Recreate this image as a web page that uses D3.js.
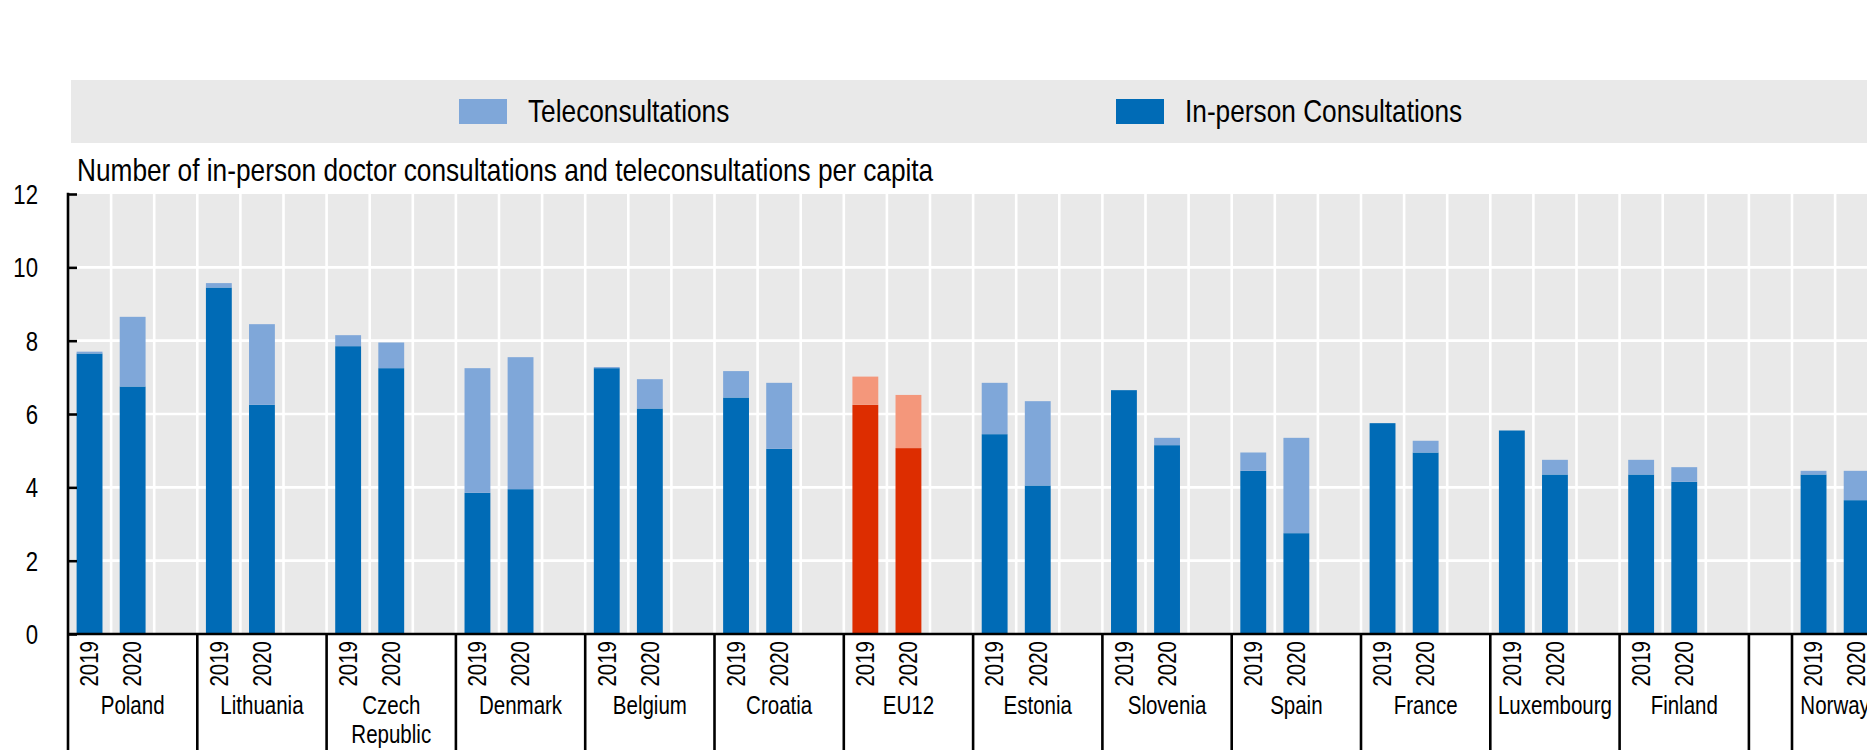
<!DOCTYPE html>
<html><head><meta charset="utf-8">
<script src="https://cdn.jsdelivr.net/npm/d3@7"></script>
<style>html,body{margin:0;padding:0;background:#fff;overflow:hidden}</style>
</head><body>
<svg id="chart" width="1867" height="750"></svg>
<script>
// ---------- data ----------
const countries = ["Poland","Lithuania","Czech Republic","Denmark","Belgium","Croatia","EU12","Estonia","Slovenia","Spain","France","Luxembourg","Finland","Norway"];
const nonEU = ["Norway"];
const years = ["2019","2020"];
const inPerson2019 = [7.65, 9.45, 7.85, 3.85, 7.25, 6.45, 6.25, 5.45, 6.65, 4.45, 5.75, 5.55, 4.35, 4.35];
const tele2019     = [0.05, 0.12, 0.30, 3.40, 0.03, 0.72, 0.77, 1.40, 0.00, 0.50, 0.00, 0.00, 0.40, 0.10];
const inPerson2020 = [6.75, 6.25, 7.25, 3.95, 6.15, 5.05, 5.07, 4.05, 5.15, 2.75, 4.95, 4.35, 4.15, 3.65];
const tele2020     = [1.90, 2.20, 0.70, 3.60, 0.80, 1.80, 1.45, 2.30, 0.20, 2.60, 0.32, 0.40, 0.40, 0.80];
const yTicks = [0, 2, 4, 6, 8, 10, 12];
const legendLabels = ["Teleconsultations", "In-person Consultations"];
const titleText = "Number of in-person doctor consultations and teleconsultations per capita";
const highlight = "EU12";

// ---------- font ----------
function hasFont(name){
  const c = document.createElement('canvas').getContext('2d');
  const s = 'abcdefghijklmnopqrstuvwxyz0123456789';
  c.font = '40px monospace'; const a = c.measureText(s).width;
  c.font = `40px "${name}", monospace`; const b = c.measureText(s).width;
  return Math.abs(a-b) > 0.5;
}
const narrowName = ["Liberation Sans Narrow","Arial Narrow"].find(hasFont);
const FONT = narrowName ? `"${narrowName}", sans-serif` : `"Liberation Sans", Arial, sans-serif`;
function narrow(sel){
  if (narrowName) return;
  sel.each(function(){
    const w = this.getComputedTextLength();
    this.setAttribute('textLength', w*0.82);
    this.setAttribute('lengthAdjust', 'spacingAndGlyphs');
  });
}

// ---------- colours ----------
const C = {
  inPerson: "#006BB6", tele: "#7FA7D9",
  inPersonHL: "#DD2D00", teleHL: "#F4977B",
  bg: "#E9E9E9", grid: "#FFFFFF", axis: "#000000"
};

// ---------- layout ----------
const W = 1867, H = 750;
const plotLeft = 68, plotTop = 194, plotBottom = 634, slotW = 43.1;
const svg = d3.select("#chart").style("font-family", FONT);

// slots
const slots = [];
countries.forEach((c, i) => {
  if (nonEU.includes(c) && !nonEU.includes(countries[i-1])) slots.push("gap|pad");
  years.forEach(y => slots.push(c + "|" + y));
  if (i < countries.length - 1) slots.push(c + "|pad");
});
const x = d3.scaleBand().domain(slots).range([plotLeft, plotLeft + slots.length * slotW]).padding(0);
const y = d3.scaleLinear().domain([0, 12]).range([plotBottom, plotTop]);
const plotRight = x.range()[1];

// ---------- legend ----------
svg.append("rect").attr("x", 71).attr("y", 80).attr("width", W - 71 + 10).attr("height", 63).attr("fill", C.bg);
const legendX = [459, 1116];
const legendCol = [C.tele, C.inPerson];
legendLabels.forEach((lab, i) => {
  svg.append("rect").attr("x", legendX[i]).attr("y", 99).attr("width", 48).attr("height", 25).attr("fill", legendCol[i]);
  svg.append("text").attr("x", legendX[i] + 69).attr("y", 122).attr("font-size", 32).attr("fill", "#000").text(lab).call(narrow);
});

// ---------- title ----------
svg.append("text").attr("x", 77).attr("y", 181).attr("font-size", 32).attr("fill", "#000").text(titleText).call(narrow);

// ---------- plot background & grid ----------
svg.append("rect").attr("x", plotLeft).attr("y", plotTop).attr("width", plotRight - plotLeft).attr("height", plotBottom - plotTop).attr("fill", C.bg);
svg.append("g").selectAll("line").data(yTicks.filter(t => t > 0 && t < 12)).join("line")
  .attr("x1", plotLeft).attr("x2", plotRight).attr("y1", d => y(d)).attr("y2", d => y(d))
  .attr("stroke", C.grid).attr("stroke-width", 2.6);
svg.append("g").selectAll("line").data(slots.slice(1)).join("line")
  .attr("x1", d => x(d)).attr("x2", d => x(d)).attr("y1", plotTop).attr("y2", plotBottom)
  .attr("stroke", C.grid).attr("stroke-width", 2.6);

// ---------- bars ----------
const barData = [];
countries.forEach((c, i) => {
  barData.push({c, yr: "2019", ip: inPerson2019[i], tele: tele2019[i]});
  barData.push({c, yr: "2020", ip: inPerson2020[i], tele: tele2020[i]});
});
const bw = x.bandwidth() * 0.6, boff = x.bandwidth() * 0.2;
const bars = svg.append("g");
bars.selectAll("rect.ip").data(barData).join("rect").attr("class", "ip")
  .attr("x", d => x(d.c + "|" + d.yr) + boff).attr("width", bw)
  .attr("y", d => y(d.ip)).attr("height", d => y(0) - y(d.ip))
  .attr("fill", d => d.c === highlight ? C.inPersonHL : C.inPerson);
bars.selectAll("rect.tele").data(barData.filter(d => d.tele > 0)).join("rect").attr("class", "tele")
  .attr("x", d => x(d.c + "|" + d.yr) + boff).attr("width", bw)
  .attr("y", d => y(d.ip + d.tele)).attr("height", d => y(d.ip) - y(d.ip + d.tele))
  .attr("fill", d => d.c === highlight ? C.teleHL : C.tele);

// ---------- y axis ----------
const yAxis = d3.axisLeft(y).tickValues(yTicks).tickSize(-9).tickPadding(30).tickFormat(d3.format("d"));
const yg = svg.append("g").attr("transform", `translate(${plotLeft},0)`).call(yAxis);
yg.select(".domain").remove();
yg.selectAll(".tick line").attr("stroke", C.axis).attr("stroke-width", 2.6);
yg.selectAll(".tick text").attr("font-family", FONT).attr("font-size", 27).attr("fill", "#000").attr("dy", "0.35em").call(narrow);
svg.append("line").attr("x1", plotLeft).attr("x2", plotLeft).attr("y1", plotTop - 1.3).attr("y2", H)
  .attr("stroke", C.axis).attr("stroke-width", 2.6);

// ---------- x axis ----------
svg.append("line").attr("x1", plotLeft).attr("x2", plotRight).attr("y1", plotBottom).attr("y2", plotBottom)
  .attr("stroke", C.axis).attr("stroke-width", 2.6);
const groupStarts = slots.filter(s => s.endsWith("|2019") || s === "gap|pad").map(s => x(s)).concat([plotRight]);
svg.append("g").selectAll("line").data(groupStarts.filter(v => v > plotLeft)).join("line")
  .attr("x1", d => d).attr("x2", d => d).attr("y1", plotBottom).attr("y2", H)
  .attr("stroke", C.axis).attr("stroke-width", 2.6);

// year labels
svg.append("g").selectAll("text").data(barData).join("text")
  .attr("transform", d => `translate(${x(d.c + "|" + d.yr) + x.bandwidth()/2},641) rotate(-90)`)
  .attr("text-anchor", "end").attr("dy", "0.35em").attr("font-size", 25).attr("fill", "#000")
  .text(d => d.yr).call(narrow);

// category labels
countries.forEach((c, i) => {
  const x0 = x(c + "|2019");
  const x1 = i < countries.length - 1 ? x(c + "|pad") + x.bandwidth() : x(c + "|2020") + x.bandwidth();
  const cx = (x0 + x1) / 2;
  const lines = c.length > 11 ? c.split(" ") : [c];
  lines.forEach((ln, k) => {
    svg.append("text").attr("x", cx).attr("y", 714 + k * 29).attr("text-anchor", "middle")
      .attr("font-size", 25).attr("fill", "#000").text(ln).call(narrow);
  });
});
</script>
</body></html>
